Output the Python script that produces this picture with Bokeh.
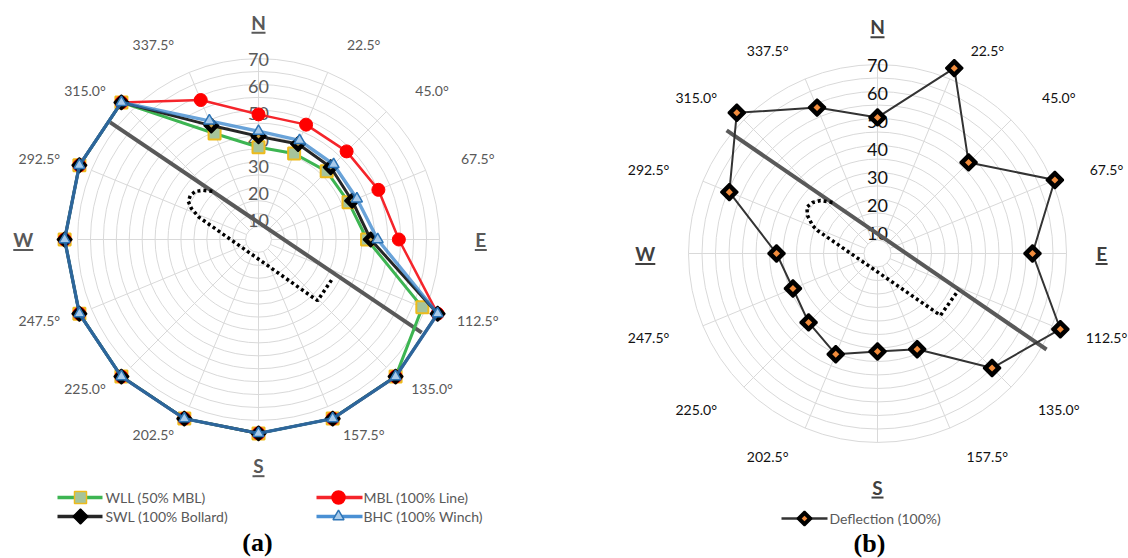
import math
from bokeh.plotting import figure
from bokeh.models import Range1d
from bokeh.layouts import row
from bokeh.embed import file_html
from bokeh.resources import INLINE
from bokeh.core.properties import value

# ---------------- data ----------------
bearings = [0.0, 22.5, 45.0, 67.5, 90.0, 112.5, 135.0, 157.5,
            180.0, 202.5, 225.0, 247.5, 270.0, 292.5, 315.0, 337.5]
direction_labels = ["N", "22.5°", "45.0°", "67.5°", "E", "112.5°", "135.0°", "157.5°",
                    "S", "202.5°", "225.0°", "247.5°", "W", "292.5°", "315.0°", "337.5°"]
radial_ticks = [10, 20, 30, 40, 50, 60, 70]
ring_values = [5, 10, 15, 20, 25, 30, 35, 40, 45, 50, 55, 60, 65, 70]

# panel (a)
wll = [35.7, 36.0, 37.3, 37.7, 42.0, 68.6, 75, 75, 75, 75, 75, 75, 75, 75, 75, 44.4]
mbl = [48.4, 48.1, 48.2, 50.2, 54.3, 75, 75, 75, 75, 75, 75, 75, 75, 75, 75, 58.4]
swl = [39.9, 40.0, 39.5, 39.2, 43.4, 75, 75, 75, 75, 75, 75, 75, 75, 75, 75, 47.7]
bhc = [41.9, 41.5, 41.1, 41.2, 46.1, 75, 75, 75, 75, 75, 75, 75, 75, 75, 75, 49.7]
# panel (b)
deflection = [50.4, 74.3, 47.7, 71.1, 57.4, 73.3, 60.0, 38.4,
              36.3, 40.4, 36.1, 33.9, 37.4, 59.4, 73.7, 58.5]

# berth line and vessel outline (bearing, radial value)
berth_a_b = [308.3, 119.7]
berth_a_v = [73.1, 72.7]
berth_b_b = [309.2, 119.6]
berth_b_v = [72.1, 72.0]
vessel_a_b = [316.2, 311.7, 307.3, 302.9, 298.5, 294.8, 290.4, 136.0, 117.8]
vessel_a_v = [25.8, 28.6, 30.7, 31.4, 30.9, 28.6, 24.4, 32.9, 32.4]
vessel_b_b = [318.6, 312.9, 308.1, 303.3, 298.5, 293.3, 291.0, 134.5, 114.5]
vessel_b_v = [25.2, 28.8, 30.6, 31.3, 29.5, 26.2, 23.8, 32.7, 32.9]

FONT = value("Lato")
W, H = 564, 558


def pol(bs, vs):
    xs = [v * math.sin(math.radians(b)) for b, v in zip(bs, vs)]
    ys = [v * math.cos(math.radians(b)) for b, v in zip(bs, vs)]
    return xs, ys


def closed(bs, vs):
    xs, ys = pol(bs, vs)
    return xs + xs[:1], ys + ys[:1]


def base_fig(cx, cy, k):
    p = figure(width=W, height=H,
               x_range=Range1d(-cx / k, (W - cx) / k),
               y_range=Range1d(-(H - cy) / k, cy / k),
               x_axis_type=None, y_axis_type=None,
               output_backend="svg", toolbar_location=None, min_border=0,
               background_fill_color="white", border_fill_color="white")
    p.outline_line_color = None
    return p


def draw_frame(p, k, tick_color, lab_color, nsew_r, nsew_color):
    n = len(ring_values)
    p.circle(x=[0] * n, y=[0] * n, radius=ring_values, fill_color=None,
             line_color="#D9D9D9", line_width=1)
    x0, y0 = pol(bearings, [ring_values[0]] * len(bearings))
    x1, y1 = pol(bearings, [ring_values[-1]] * len(bearings))
    p.segment(x0=x0, y0=y0, x1=x1, y1=y1, line_color="#D9D9D9", line_width=1)
    # radial tick labels
    ty = [1.037 * v - 3 for v in radial_ticks]
    p.text(x=[0] * len(radial_ticks), y=ty, text=[str(v) for v in radial_ticks],
           text_font=FONT, text_font_size="18px", text_color=tick_color,
           text_align="center", text_baseline="middle")
    # degree labels: pushed away from the N-S axis
    lab_r, lab_h = 81.5, 9.5
    lx, ly, lt = [], [], []
    for b, t in zip(bearings, direction_labels):
        if t in ("N", "E", "S", "W"):
            continue
        s = math.sin(math.radians(b))
        lx.append(lab_r * s + (lab_h if s > 0 else -lab_h))
        ly.append(lab_r * math.cos(math.radians(b)))
        lt.append(t)
    p.text(x=lx, y=ly, text=lt, text_font=FONT, text_font_size="14px",
           text_color=lab_color, text_align="center", text_baseline="middle")
    # compass letters with underline
    half = {"N": 7, "E": 6, "S": 6, "W": 10}
    cx_, cy_, ct = [], [], []
    ux0, ux1, uy = [], [], []
    for b, t in zip(bearings, direction_labels):
        if t not in ("N", "E", "S", "W"):
            continue
        r = nsew_r[t]
        x = r * math.sin(math.radians(b))
        y = r * math.cos(math.radians(b))
        cx_.append(x); cy_.append(y); ct.append(t)
        ux0.append(x - half[t] / k); ux1.append(x + half[t] / k); uy.append(y - 10.5 / k)
    p.text(x=cx_, y=cy_, text=ct, text_font=FONT, text_font_size="19px",
           text_font_style="bold", text_color=nsew_color,
           text_align="center", text_baseline="middle")
    p.segment(x0=ux0, y0=uy, x1=ux1, y1=uy, line_color=nsew_color, line_width=2)


def draw_overlay(p, bb, bv, vb, vv):
    xs, ys = pol(bb, bv)
    p.line(xs, ys, line_color="#595959", line_width=4)
    xs, ys = pol(vb, vv)
    p.line(xs, ys, line_color="black", line_width=3.5, line_dash="3 3")


def fpos(cx, cy, k, fx, fy):
    return (fx - cx) / k, (cy - fy) / k


# ---------------- panel (a) ----------------
ka, cxa, cya = 2.585, 258, 239
pa = base_fig(cxa, cya, ka)
draw_frame(pa, ka, "#595959", "#595959",
           {"N": 84, "E": 86, "S": 87.5, "W": 91}, "#595959")
draw_overlay(pa, berth_a_b, berth_a_v, vessel_a_b, vessel_a_v)

green, red, blk, blue = "#3DB552", "#F5252B", "#262626", "#2F7FCB"

xs, ys = closed(bearings, wll)
pa.line(xs, ys, line_color=green, line_width=3)
pa.scatter(xs[:-1], ys[:-1], marker="square", size=12, fill_color="#A6C49A",
           line_color="#EDBB1C", line_width=2)
xs, ys = closed(bearings, mbl)
pa.line(xs, ys, line_color=red, line_width=2.5)
pa.scatter(xs[:-1], ys[:-1], marker="circle", size=13, fill_color="#FF0000",
           line_color="#FF0000")
xs, ys = closed(bearings, swl)
pa.line(xs, ys, line_color=blk, line_width=3)
pa.scatter(xs[:-1], ys[:-1], marker="square", angle=math.pi / 4, size=10.5,
           fill_color="black", line_color="black", line_width=1.5)
pa.scatter(xs[:-1], ys[:-1], marker="square", angle=math.pi / 4, size=3,
           fill_color="#C9A04A", line_color=None)
xs, ys = closed(bearings, bhc)
pa.line(xs, ys, line_color=blue, line_width=3.4, line_alpha=0.72)
pa.scatter(xs[:-1], ys[:-1], marker="triangle", size=11, fill_color="#A9CBEA",
           line_color="#2E75B6", line_width=1.5)

# legend (a)
legend_items = [
    (57, 102, 80, 105, 497, "WLL (50% MBL)", green, "square", 12, "#A6C49A", "#EDBB1C", 0),
    (316, 362, 338, 363, 497, "MBL (100% Line)", red, "circle", 13, "#FF0000", "#FF0000", 0),
    (57, 102, 80, 105, 516, "SWL (100% Bollard)", blk, "square", 10.5, "black", "black", math.pi / 4),
    (316, 362, 338, 363, 516, "BHC (100% Winch)", "#4A90D4", "triangle", 11, "#A9CBEA", "#2E75B6", 0),
]
for (l0, l1, mx, tx, fy, label, col, mk, sz, fc, lc, ang) in legend_items:
    xa, ya = fpos(cxa, cya, ka, l0, fy)
    xb, _ = fpos(cxa, cya, ka, l1, fy)
    xm, _ = fpos(cxa, cya, ka, mx, fy)
    xt, _ = fpos(cxa, cya, ka, tx, fy)
    pa.line([xa, xb], [ya, ya], line_color=col, line_width=3.5)
    pa.scatter([xm], [ya], marker=mk, size=sz, angle=ang, fill_color=fc,
               line_color=lc, line_width=1.5)
    pa.text([xt], [ya], text=[label], text_font=FONT, text_font_size="14px",
            text_color="#595959", text_align="left", text_baseline="middle")

xa, ya = fpos(cxa, cya, ka, 257, 542)
pa.text([xa], [ya], text=["(a)"], text_font=value("Liberation Serif"),
        text_font_size="26px", text_font_style="bold", text_color="black",
        text_align="center", text_baseline="middle")

# ---------------- panel (b) ----------------
kb, cxb, cyb = 2.70, 313, 253
pb = base_fig(cxb, cyb, kb)
draw_frame(pb, kb, "#111111", "#111111",
           {"N": 84, "E": 83, "S": 86.5, "W": 86}, "#404040")
draw_overlay(pb, berth_b_b, berth_b_v, vessel_b_b, vessel_b_v)

xs, ys = closed(bearings, deflection)
pb.line(xs, ys, line_color="#333333", line_width=2)
pb.scatter(xs[:-1], ys[:-1], marker="square", angle=math.pi / 4, size=12,
           fill_color="black", line_color="black", line_width=2)
pb.scatter(xs[:-1], ys[:-1], marker="square", angle=math.pi / 4, size=5,
           fill_color="#F28C3C", line_color=None)

xa, ya = fpos(cxb, cyb, kb, 217, 518)
xb, _ = fpos(cxb, cyb, kb, 263, 518)
xm, _ = fpos(cxb, cyb, kb, 240, 518)
xt, _ = fpos(cxb, cyb, kb, 265, 518)
pb.line([xa, xb], [ya, ya], line_color="#333333", line_width=2.5)
pb.scatter([xm], [ya], marker="square", angle=math.pi / 4, size=10,
           fill_color="black", line_color="black", line_width=2)
pb.scatter([xm], [ya], marker="square", angle=math.pi / 4, size=4,
           fill_color="#F28C3C", line_color=None)
pb.text([xt], [ya], text=["Deflection (100%)"], text_font=FONT, text_font_size="14px",
        text_color="#595959", text_align="left", text_baseline="middle")

xa, ya = fpos(cxb, cyb, kb, 305, 543)
pb.text([xa], [ya], text=["(b)"], text_font=value("Liberation Serif"),
        text_font_size="26px", text_font_style="bold", text_color="black",
        text_align="center", text_baseline="middle")

layout = row(pa, pb)
open("out.html", "w").write(file_html(layout, INLINE))
